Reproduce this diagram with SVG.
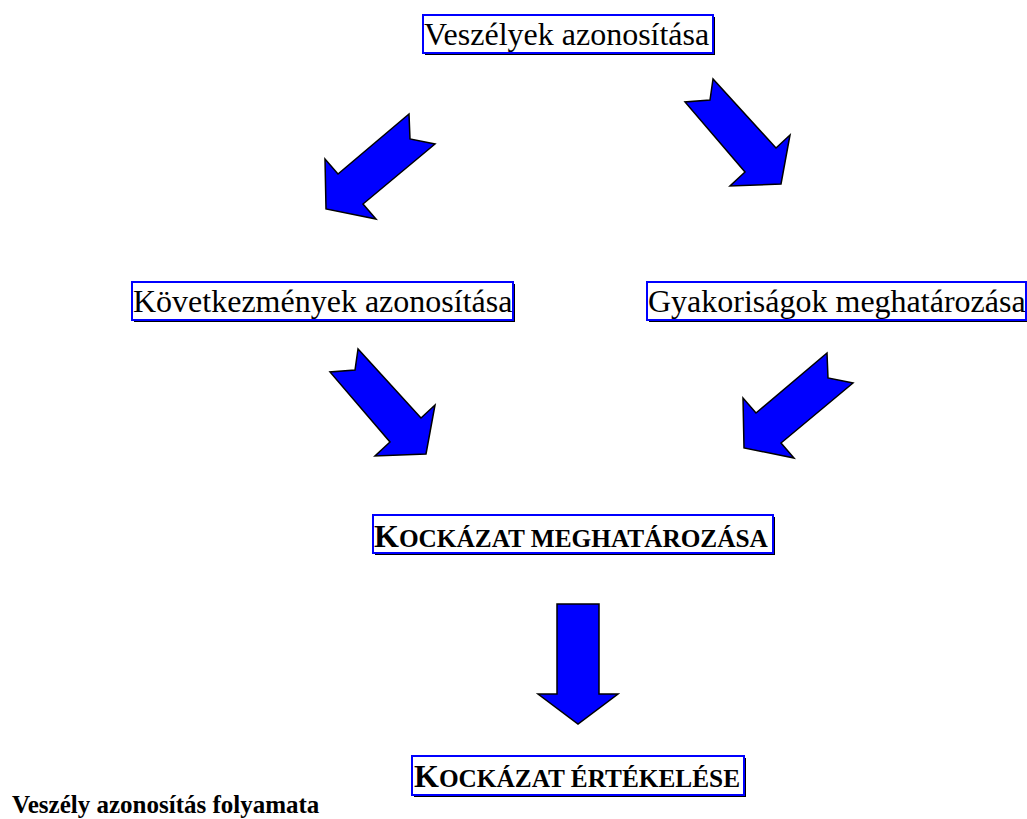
<svg xmlns="http://www.w3.org/2000/svg" width="1027" height="819" viewBox="0 0 1027 819">
<style>
.shadow{fill:#000000}
.box{fill:#ffffff;stroke:#0000ff;stroke-width:2}
.lbl{font-family:"Liberation Serif","Times New Roman",serif;font-size:32px;fill:#000000}
.bold{font-family:"Liberation Serif","Times New Roman",serif;font-weight:bold;fill:#000000}
.arrow{fill:#0000ff;stroke:#000000;stroke-width:1.5;stroke-linejoin:miter}
</style>
<rect width="1027" height="819" fill="#ffffff"/>
<g id="connectors">
<polygon class="arrow" points="409,114 410,139 435,144 363,204 376,219 326,209 325,159 338,174"/>
<polygon class="arrow" points="713,79 710,100 685,102 745,172 730,186 781,184 790,135 776,148"/>
<polygon class="arrow" points="358,349 355,370 330,372 390,442 375,456 426,454 435,405 421,418"/>
<polygon class="arrow" points="827,353 828,378 853,383 781,443 794,458 744,448 743,398 756,413"/>
<polygon class="arrow" points="557,604 599,604 599,694 618,694 578,724 538,694 557,694"/>
</g>
<g id="node-veszelyek">
<rect class="shadow" x="425" y="17" width="290" height="38"/>
<rect class="box" x="423" y="15" width="290" height="38"/>
<text class="lbl" x="424" y="45">Veszélyek azonosítása</text>
</g>
<g id="node-kovetkezmenyek">
<rect class="shadow" x="134" y="284" width="381" height="38"/>
<rect class="box" x="132" y="282" width="381" height="38"/>
<text class="lbl" x="133" y="312">Következmények azonosítása</text>
</g>
<g id="node-gyakorisagok">
<rect class="shadow" x="649" y="284" width="379" height="38"/>
<rect class="box" x="647" y="282" width="379" height="38"/>
<text class="lbl" x="648" y="312">Gyakoriságok meghatározása</text>
</g>
<g id="node-kockazat-meghatarozasa">
<rect class="shadow" x="375" y="517" width="400" height="38"/>
<rect class="box" x="373" y="515" width="400" height="38"/>
<text class="bold" x="374" y="547" font-size="32">K<tspan font-size="25.3">OCKÁZAT MEGHATÁROZÁSA</tspan></text>
</g>
<g id="node-kockazat-ertekelese">
<rect class="shadow" x="414" y="758" width="332" height="39"/>
<rect class="box" x="412" y="756" width="332" height="39"/>
<text class="bold" x="414" y="787" font-size="32">K<tspan font-size="25.3">OCKÁZAT ÉRTÉKELÉSE</tspan></text>
</g>
<g id="caption">
<text class="bold" x="12" y="813" font-size="25">Veszély azonosítás folyamata</text>
</g>
</svg>
